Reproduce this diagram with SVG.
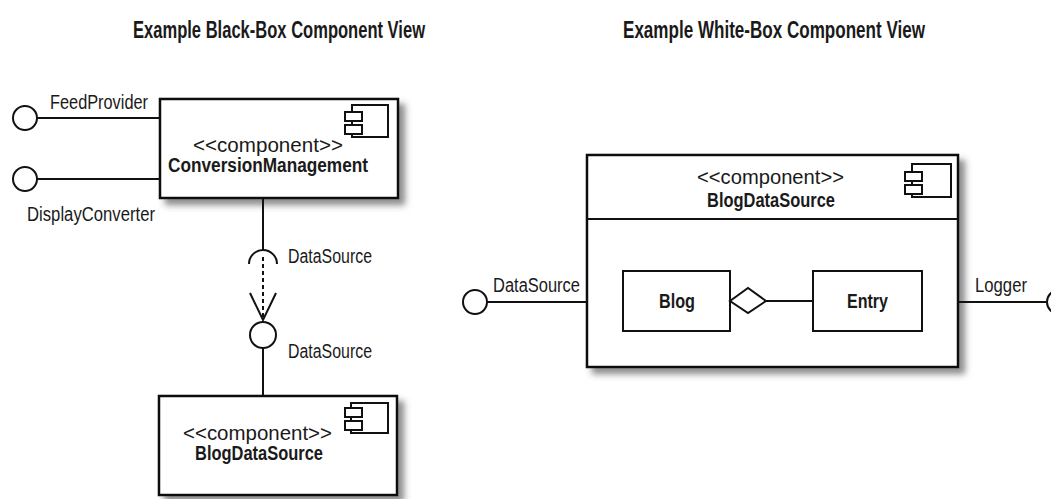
<svg xmlns="http://www.w3.org/2000/svg" width="1051" height="499" viewBox="0 0 1051 499">
<defs>
<filter id="sh" x="-10%" y="-10%" width="130%" height="130%">
<feDropShadow dx="6" dy="6" stdDeviation="3" flood-color="#444" flood-opacity="0.6"/>
</filter>
<style>
.t{font-family:"Liberation Sans",Arial,sans-serif;fill:#1a1a1a}
.title{font-size:23px;font-weight:bold}
.lbl{font-size:20px}
.st{font-size:20px}
.nm{font-size:20px;font-weight:bold}
.box{fill:#fff;stroke:#111;stroke-width:2.5}
.ibox{fill:#fff;stroke:#111;stroke-width:2}
.ln{fill:none;stroke:#111;stroke-width:2}
.dia{fill:#fff;stroke:#111;stroke-width:2}
.ball{fill:#fff;stroke:#111;stroke-width:2}
.icon{fill:#fff;stroke:#111;stroke-width:2}
</style>
</defs>
<rect width="1051" height="499" fill="#fff"/>

<text class="t title" x="133" y="38" textLength="292" lengthAdjust="spacingAndGlyphs">Example Black-Box Component View</text>
<text class="t title" x="623" y="38" textLength="302" lengthAdjust="spacingAndGlyphs">Example White-Box Component View</text>

<g id="feedprovider">
<circle class="ball" cx="25" cy="118" r="12"/>
<text class="t lbl" x="50" y="109" textLength="98" lengthAdjust="spacingAndGlyphs">FeedProvider</text>
</g>
<g id="displayconverter">
<circle class="ball" cx="25" cy="179" r="12"/>
<text class="t lbl" x="27" y="221" textLength="128" lengthAdjust="spacingAndGlyphs">DisplayConverter</text>
</g>

<g id="conversionmanagement">
<rect class="box" x="160" y="99" width="238" height="99" filter="url(#sh)"/>
<rect class="icon" x="352" y="105" width="36" height="32"/>
<rect class="icon" x="345" y="112" width="17" height="9"/>
<rect class="icon" x="345" y="125" width="17" height="9"/>
<text class="t st" x="193" y="152" textLength="150" lengthAdjust="spacingAndGlyphs">&lt;&lt;component&gt;&gt;</text>
<text class="t nm" x="168" y="172" textLength="200" lengthAdjust="spacingAndGlyphs">ConversionManagement</text>
</g>

<g id="datasource-required">
<text class="t lbl" x="288" y="263" textLength="84" lengthAdjust="spacingAndGlyphs">DataSource</text>
</g>
<g id="datasource-provided">
<circle class="ball" cx="263" cy="335" r="13"/>
<text class="t lbl" x="288" y="358" textLength="84" lengthAdjust="spacingAndGlyphs">DataSource</text>
</g>

<g id="blogdatasource-black">
<rect class="box" x="159" y="396" width="238" height="99" filter="url(#sh)"/>
<rect class="icon" x="351" y="403" width="37" height="30"/>
<rect class="icon" x="345" y="408" width="17" height="9"/>
<rect class="icon" x="345" y="421" width="17" height="9"/>
<text class="t st" x="183" y="440" textLength="149" lengthAdjust="spacingAndGlyphs">&lt;&lt;component&gt;&gt;</text>
<text class="t nm" x="195" y="460" textLength="128" lengthAdjust="spacingAndGlyphs">BlogDataSource</text>
</g>

<g id="blogdatasource-white">
<rect class="box" x="587" y="155" width="371" height="212" filter="url(#sh)"/>
<line class="ln" x1="587" y1="219" x2="958" y2="219" stroke-width="2.5"/>
<rect class="icon" x="912" y="164" width="39" height="33"/>
<rect class="icon" x="905" y="172" width="17" height="9"/>
<rect class="icon" x="905" y="185" width="17" height="9"/>
<text class="t st" x="697" y="184" textLength="147" lengthAdjust="spacingAndGlyphs">&lt;&lt;component&gt;&gt;</text>
<text class="t nm" x="707" y="207" textLength="128" lengthAdjust="spacingAndGlyphs">BlogDataSource</text>
</g>

<g id="blog">
<rect class="ibox" x="623" y="271" width="107" height="60"/>
<text class="t nm" x="659" y="308" textLength="36" lengthAdjust="spacingAndGlyphs">Blog</text>
</g>
<g id="entry">
<rect class="ibox" x="813" y="271" width="109" height="60"/>
<text class="t nm" x="847" y="308" textLength="41" lengthAdjust="spacingAndGlyphs">Entry</text>
</g>

<g id="datasource-white">
<circle class="ball" cx="475" cy="302" r="12"/>
<text class="t lbl" x="493" y="292" textLength="87" lengthAdjust="spacingAndGlyphs">DataSource</text>
</g>
<g id="logger">
<circle class="ball" cx="1059" cy="302" r="12"/>
<text class="t lbl" x="975" y="292" textLength="52" lengthAdjust="spacingAndGlyphs">Logger</text>
</g>

<g id="connectors">
<line class="ln" x1="37" y1="118" x2="160" y2="118"/>
<line class="ln" x1="37" y1="179" x2="160" y2="179"/>
<line class="ln" x1="263" y1="199" x2="263" y2="250"/>
<path class="ln" d="M249 264 A14 14 0 0 1 277 264"/>
<line class="ln" x1="263" y1="257" x2="263" y2="318" stroke-dasharray="4 3"/>
<polyline class="ln" points="250,293 263,320 276,293"/>
<line class="ln" x1="263" y1="348" x2="263" y2="395"/>
<line class="ln" x1="487" y1="302" x2="587" y2="302"/>
<line class="ln" x1="766" y1="301" x2="813" y2="301"/>
<polygon class="dia" points="730,301 748,288 766,301 748,313"/>
<line class="ln" x1="958" y1="302" x2="1047" y2="302"/>
</g>
</svg>
